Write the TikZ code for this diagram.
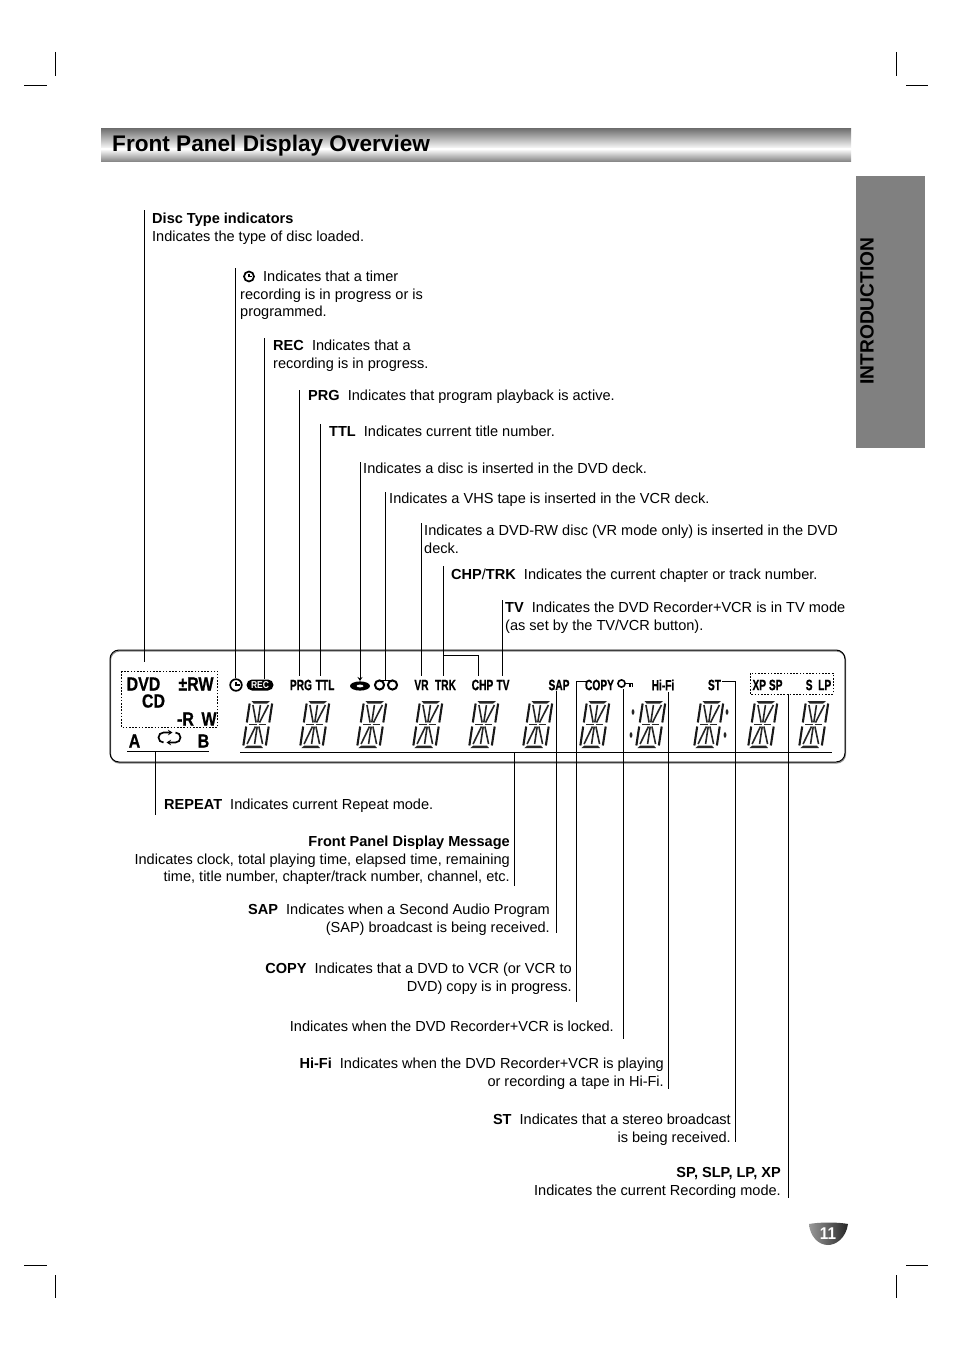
\documentclass[tikz,border=0pt]{standalone}
\usepackage{fontspec}
\usepackage{graphicx}
\setmainfont{Liberation Sans}
\newfontfamily\lcdf[BoldFeatures={FakeBold=0.7}]{Liberation Sans}
\usetikzlibrary{arrows.meta}
\newcommand{\cnd}[2]{\scalebox{#1}[1]{#2}}
\newcommand{\segdigit}[1]{%
  \begin{scope}[shift={(#1,724.5)},xslant=.15]
    \fill[seg] (-10,-23.5) -- (8.5,-23.5) -- (6,-21) -- (-7.5,-21) -- cycle;
    \fill[seg] (-10,23.5) -- (8.5,23.5) -- (6,21) -- (-7.5,21) -- cycle;
    \draw[segl] (-11.5,-21) -- (-11.5,-2) (11,-21) -- (11,-2) (-11.5,2) -- (-11.5,21) (11,2) -- (11,21);
    \draw[segm] (-0.5,-19.5) -- (-0.5,-2) (-0.5,2) -- (-0.5,19.5);
    \draw[segm] (-8,-19.5) -- (-2.2,-2) (7.5,-19.5) -- (1.2,-2);
    \draw[segm] (-8,19.5) -- (-2.2,2) (7.5,19.5) -- (1.2,2);
    \draw[segm] (-9,0) -- (-1.5,0) (0.5,0) -- (8,0);
  \end{scope}}
\tikzset{x=1pt,y=-1pt,
  seg/.style={fill=black!85},
  segl/.style={draw=black!90,line width=2.1pt},
  segm/.style={draw=black!85,line width=1.6pt},
  leader/.style={draw=black,line width=.9pt},
  crop/.style={draw=black,line width=.8pt},
  body/.style={inner sep=0pt,font=\fontsize{14.55}{17.6}\selectfont,align=left,anchor=north west},
  bodyr/.style={inner sep=0pt,font=\fontsize{14.55}{17.6}\selectfont,align=right,anchor=north east},
  lcd/.style={inner sep=0pt,font=\fontsize{15}{15}\lcdf\bfseries,anchor=center},
  lcdbig/.style={inner sep=0pt,font=\fontsize{19}{19}\lcdf\bfseries,anchor=center},
  dotbox/.style={draw=black,line width=.9pt,dash pattern=on 1.6pt off 1.6pt}
}
\begin{document}
\begin{tikzpicture}
\useasboundingbox (0,0) rectangle (954,1351);
\fill[white] (0,0) rectangle (954,1351);
% crop marks
\draw[crop] (24,85.5) -- (47,85.5) (55.5,52) -- (55.5,76) (906,85.5) -- (928,85.5) (896.5,52) -- (896.5,76);
\draw[crop] (24,1265.5) -- (47,1265.5) (55.5,1275) -- (55.5,1298) (906,1265.5) -- (928,1265.5) (896.5,1275) -- (896.5,1298);
% header
\fill[top color=black!55,bottom color=white] (101,129) rectangle (851,149);
\fill[top color=white,bottom color=black!50] (101,149) rectangle (851,162);
\node[inner sep=0pt,anchor=base west,font=\fontsize{22.6}{24}\selectfont\bfseries] (title) at (112,151.5) {Front Panel Display Overview};
% side tab
\fill[black!50] (856,176) rectangle (925,448);
\node[inner sep=0pt,rotate=90,font=\fontsize{19.2}{19}\selectfont\bfseries] (intro) at (867,311) {INTRODUCTION};
% top texts
\node[body] (tdisc) at (152,211) {\strut\textbf{Disc Type indicators}\\Indicates the type of disc loaded.};
\node[body] (ttimer) at (240,269) {\strut\hspace{23pt}Indicates that a timer\\recording is in progress or is\\programmed.};
\draw[line width=1.7pt] (249,276.5) circle (5);
\draw[line width=1.2pt] (249,273.5) -- (249,276.5) -- (252,276.5);
\node[body] (trec) at (273,338) {\strut\textbf{REC}\ \ Indicates that a\\recording is in progress.};
\node[body] (tprg) at (308,388) {\strut\textbf{PRG}\ \ Indicates that program playback is active.};
\node[body] (tttl) at (329,424) {\strut\textbf{TTL}\ \ Indicates current title number.};
\node[body] (tdvd) at (363,461) {\strut Indicates a disc is inserted in the DVD deck.};
\node[body] (tvhs) at (389,491) {\strut Indicates a VHS tape is inserted in the VCR deck.};
\node[body] (tvr) at (424,523) {\strut Indicates a DVD-RW disc (VR mode only) is inserted in the DVD\\deck.};
\node[body] (tchp) at (451,567) {\strut\textbf{CHP}/\textbf{TRK}\ \ Indicates the current chapter or track number.};
\node[body] (ttv) at (505,600) {\strut\textbf{TV}\ \ Indicates the DVD Recorder+VCR is in TV mode\\(as set by the TV/VCR button).};
% bottom texts
\node[body] (trep) at (164,797) {\strut\textbf{REPEAT}\ \ Indicates current Repeat mode.};
\node[bodyr] (tmsg) at (510,834) {\strut\textbf{Front Panel Display Message}\\Indicates clock, total playing time, elapsed time, remaining\\time, title number, chapter/track number, channel, etc.};
\node[bodyr] (tsap) at (550,902) {\strut\textbf{SAP}\ \ Indicates when a Second Audio Program\\(SAP) broadcast is being received.};
\node[bodyr] (tcopy) at (572,961) {\strut\textbf{COPY}\ \ Indicates that a DVD to VCR (or VCR to\\DVD) copy is in progress.};
\node[bodyr] (tlock) at (614,1019) {\strut Indicates when the DVD Recorder+VCR is locked.};
\node[bodyr] (thifi) at (664,1056) {\strut\textbf{Hi-Fi}\ \ Indicates when the DVD Recorder+VCR is playing\\or recording a tape in Hi-Fi.};
\node[bodyr] (tst) at (731,1112) {\strut\textbf{ST}\ \ Indicates that a stereo broadcast\\is being received.};
\node[bodyr] (tsp) at (781,1165) {\strut\textbf{SP, SLP, LP, XP}\\Indicates the current Recording mode.};
% panel
\draw[black!45,line width=1.2pt,rounded corners=9pt] (110.5,651) rectangle (845.5,763);
\draw[black,line width=1pt,rounded corners=9pt] (110,650) rectangle (845,762);
\draw[dotbox] (121.5,671) rectangle (217.5,727.5);
\draw[dotbox] (750,673) rectangle (833,694);
% big labels
\node[lcdbig] (dvd) at (143.5,684) {\cnd{.84}{DVD}};
\node[lcdbig] (rw) at (196,684) {\cnd{.84}{±RW}};
\node[lcdbig] (cd) at (153.5,701) {\cnd{.84}{CD}};
\node[lcdbig] (rr) at (185.5,719) {\cnd{.84}{-R}};
\node[lcdbig] (w) at (209,719) {\cnd{.84}{W}};
\node[lcdbig] (a) at (134.5,741) {\cnd{.84}{A}};
\node[lcdbig] (b) at (203.5,741) {\cnd{.84}{B}};
\draw[line width=.9pt] (127,751) -- (209,751);
\draw[line width=1.7pt,-{Stealth[length=4.5pt,width=5.5pt]}] (163.5,742.5) arc (90:270:5) -- (172.5,732.5);
\draw[line width=1.7pt,-{Stealth[length=4.5pt,width=5.5pt]}] (175.5,732.5) arc (-90:90:5) -- (166.5,742.5);
% indicators
\draw[line width=1.7pt] (236,685) circle (5.8);
\draw[line width=1.2pt] (236,681.5) -- (236,685) -- (239.5,685);
\fill[black] (252,679.5) -- (268,679.5) arc (-90:90:5.5) -- (252,690.5) arc (90:270:5.5) -- cycle;
\node[inner sep=0pt,font=\fontsize{10}{10}\selectfont\bfseries,text=white] (rec) at (260,685) {\cnd{.85}{REC}};
\node[lcd] (prg) at (301,685) {\cnd{.68}{PRG}};
\node[lcd] (ttl) at (325,685) {\cnd{.68}{TTL}};
\fill[black] (360,686) ellipse (10 and 4.6);
\fill[white] (360,686) ellipse (3.5 and 1.4);
\draw[line width=2pt] (379.5,685) circle (4.6) (392.5,685) circle (4.6);
\draw[line width=1.6pt] (379.5,680.4) -- (392.5,680.4);
\node[lcd] (vr) at (421.5,685) {\cnd{.68}{VR}};
\node[lcd] (trk) at (445.5,685) {\cnd{.68}{TRK}};
\node[lcd] (chp) at (482.5,685) {\cnd{.68}{CHP}};
\node[lcd] (tv) at (503,685) {\cnd{.68}{TV}};
\node[lcd] (sap) at (559,685) {\cnd{.68}{SAP}};
\node[lcd] (copy) at (599.5,685) {\cnd{.68}{COPY}};
\draw[line width=1.6pt] (621.5,683.5) circle (3.6);
\draw[line width=1.6pt] (625,683.5) -- (633,683.5) (630,683.5) -- (630,686.5) (632.5,683.5) -- (632.5,686.5);
\node[lcd] (hifi) at (663,685) {\cnd{.68}{Hi-Fi}};
\node[lcd] (st) at (714.5,685) {\cnd{.68}{ST}};
\node[lcd] (xpsp) at (767.5,685) {\cnd{.68}{XP SP}};
\node[lcd] (slp) at (818.5,685) {\cnd{.68}{S\ \ LP}};
% digits
\segdigit{258}\segdigit{315}\segdigit{372}\segdigit{428}\segdigit{484}\segdigit{538}\segdigit{595}\segdigit{651}\segdigit{709}\segdigit{763}\segdigit{814}
\fill[black!85] (633,712) ellipse (1.4 and 2.8) (631,735) ellipse (1.4 and 2.8) (727,712) ellipse (1.4 and 2.8) (725,735) ellipse (1.4 and 2.8);
% connectors
\coordinate (a1) at (144.5,210); \coordinate (a2) at (144.5,662);
\coordinate (b1) at (235,268); \coordinate (b2) at (235,678);
\coordinate (c1) at (264,338); \coordinate (c2) at (264,679);
\coordinate (d1) at (299.5,390); \coordinate (d2) at (299.5,676);
\coordinate (e1) at (320.5,424); \coordinate (e2) at (320.5,676);
\coordinate (f1) at (360,462); \coordinate (f2) at (360,681);
\coordinate (g1) at (385,492); \coordinate (g2) at (385,680);
\coordinate (h1) at (421,523); \coordinate (h2) at (421,676);
\coordinate (i1) at (443.5,566); \coordinate (i2) at (443.5,676);
\coordinate (i3) at (443.5,655); \coordinate (i4) at (478.5,655); \coordinate (i5) at (478.5,676);
\coordinate (j1) at (502,600); \coordinate (j2) at (502,676);
\coordinate (k1) at (155.5,752); \coordinate (k2) at (155.5,815);
\coordinate (l0) at (240,752.5); \coordinate (l3) at (832,752.5);
\coordinate (l1) at (514.5,752.5); \coordinate (l2) at (514.5,886);
\coordinate (m1) at (556.5,691); \coordinate (m2) at (556.5,933);
\coordinate (n0) at (587,681.5); \coordinate (n1) at (576.5,681.5); \coordinate (n2) at (576.5,1002);
\coordinate (o1) at (623,689); \coordinate (o2) at (623,1039);
\coordinate (p1) at (668.5,692); \coordinate (p2) at (668.5,1089);
\coordinate (q0) at (722,681.5); \coordinate (q1) at (735,681.5); \coordinate (q2) at (735,1142);
\coordinate (r1) at (788,694); \coordinate (r2) at (788,1198);
\draw[leader] (a1) -- (a2);
\draw[leader] (b1) -- (b2);
\draw[leader] (c1) -- (c2);
\draw[leader] (d1) -- (d2);
\draw[leader] (e1) -- (e2);
\draw[leader,-{Stealth[length=4pt,width=5pt]}] (f1) -- (f2);
\draw[leader] (g1) -- (g2);
\draw[leader] (h1) -- (h2);
\draw[leader] (i1) -- (i2);
\draw[leader] (i3) -- (i4) -- (i5);
\draw[leader] (j1) -- (j2);
\draw[leader] (k1) -- (k2);
\draw[leader] (l0) -- (l3);
\draw[leader] (l1) -- (l2);
\draw[leader] (m1) -- (m2);
\draw[leader] (n0) -- (n1) -- (n2);
\draw[leader] (o1) -- (o2);
\draw[leader] (p1) -- (p2);
\draw[leader] (q0) -- (q1) -- (q2);
\draw[leader] (r1) -- (r2);
% page badge
\path[left color=black!40,right color=black!85] (809,1224) .. controls (820,1222) and (838,1222) .. (848,1224) .. controls (846,1238) and (836,1245) .. (828,1245) .. controls (818,1245) and (810,1236) .. (809,1224) -- cycle;
\node[inner sep=0pt,text=white,font=\fontsize{17}{17}\selectfont\bfseries] (page) at (828,1234) {\cnd{.9}{11}};
\end{tikzpicture}
\end{document}
